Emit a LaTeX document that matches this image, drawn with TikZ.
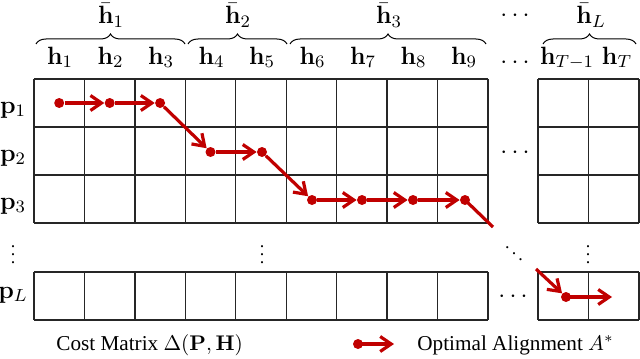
\RequirePackage{fix-cm}
\documentclass[tikz,border=0pt]{standalone}
\usepackage[no-math]{fontspec}
\setmainfont{Liberation Serif}
\usetikzlibrary{arrows.meta,decorations.pathreplacing}
\definecolor{alred}{HTML}{C00000}
\begin{document}
\begin{tikzpicture}[x=0.5pt,y=-0.5pt, font=\fontsize{12.5}{15}\selectfont,
  gridline/.style={line width=0.7pt, black!85},
  lbl/.style={inner sep=0pt, anchor=base},
  mid/.style={inner sep=0pt},
  vdot/.style={inner sep=0pt, font=\fontsize{9}{10}\selectfont},
  captxt/.style={anchor=base west, inner sep=0pt, font=\fontsize{10.6}{13}\selectfont},
  bracefig/.style={decorate, decoration={brace, amplitude=5pt}, line width=0.5pt},
  redline/.style={alred, line width=1.6pt},
  arr/.style={alred, line width=1.6pt, -{Straight Barb[length=5.5pt,width=7.5pt]}},
  reddot/.style={circle, fill=alred, inner sep=0pt, minimum size=5pt}]
\useasboundingbox (0,0) rectangle (640,358);
% grid: main block
\foreach \i in {0,...,9} {
  \draw[gridline] ({34+50.44*\i},79) -- ({34+50.44*\i},223);
  \draw[gridline] ({34+50.44*\i},272) -- ({34+50.44*\i},320);
}
\foreach \y in {79,127,175,223} \draw[gridline] (34,\y) -- (488,\y);
\foreach \y in {272,320} \draw[gridline] (34,\y) -- (488,\y);
% grid: right block
\foreach \x in {538,588.5,639} {
  \draw[gridline] (\x,79) -- (\x,223);
  \draw[gridline] (\x,272) -- (\x,320);
}
\foreach \y in {79,127,175,223,272,320} \draw[gridline] (538,\y) -- (639,\y);
% braces
\draw[bracefig] (36,44) -- (185,44);
\draw[bracefig] (188,44) -- (287,44);
\draw[bracefig] (290,44) -- (486,44);
\draw[bracefig] (543,44) -- (636,44);
% group labels
\node[lbl] (hb1) at (111,24) {$\bar{\mathbf{h}}_1$};
\node[lbl] (hb2) at (238,24) {$\bar{\mathbf{h}}_2$};
\node[lbl] (hb3) at (389,24) {$\bar{\mathbf{h}}_3$};
\node[lbl] (hbd) at (515,22) {$\cdots$};
\node[lbl] (hbL) at (591,24) {$\bar{\mathbf{h}}_L$};
% column labels
\node[lbl] (h1) at (60,64) {$\mathbf{h}_1$};
\node[lbl] (h2) at (110.5,64) {$\mathbf{h}_2$};
\node[lbl] (h3) at (161,64) {$\mathbf{h}_3$};
\node[lbl] (h4) at (211.5,64) {$\mathbf{h}_4$};
\node[lbl] (h5) at (262,64) {$\mathbf{h}_5$};
\node[lbl] (h6) at (312.5,64) {$\mathbf{h}_6$};
\node[lbl] (h7) at (363,64) {$\mathbf{h}_7$};
\node[lbl] (h8) at (413.5,64) {$\mathbf{h}_8$};
\node[lbl] (h9) at (464,64) {$\mathbf{h}_9$};
\node[mid] (hd) at (515,63) {$\cdots$};
\node[lbl] (hT1) at (567,64) {$\mathbf{h}_{T-1}$};
\node[lbl] (hT) at (617,64) {$\mathbf{h}_T$};
% row labels
\node[lbl] (p1) at (13,113) {$\mathbf{p}_1$};
\node[lbl] (p2) at (13,161) {$\mathbf{p}_2$};
\node[lbl] (p3) at (13,209) {$\mathbf{p}_3$};
\node[lbl] (pL) at (13,298) {$\mathbf{p}_L$};
% dots
\node[vdot] (v1) at (13,249) {$\vdots$};
\node[vdot] (v2) at (262,249) {$\vdots$};
\node[vdot] (v3) at (588,249) {$\vdots$};
\node[vdot] (dd) at (514,248) {$\ddots$};
\node[mid] (r2d) at (515,153) {$\cdots$};
\node[mid] (rLd) at (513,297) {$\cdots$};
% alignment path
\node[reddot] (a1) at (59.2,103) {};
\node[reddot] (a2) at (109.7,103) {};
\node[reddot] (a3) at (160.1,103) {};
\node[reddot] (a4) at (210.5,152) {};
\node[reddot] (a5) at (262,152) {};
\node[reddot] (a6) at (312,200) {};
\node[reddot] (a7) at (362,200) {};
\node[reddot] (a8) at (413,200) {};
\node[reddot] (a9) at (465,200) {};
\coordinate (e9) at (493,227);
\coordinate (sL) at (536,269);
\node[reddot] (aL) at (566,297) {};
\coordinate (eL) at (612,297);
\draw[arr] (a1) -- (a2);
\draw[arr] (a2) -- (a3);
\draw[arr] (a3) -- (a4);
\draw[arr] (a4) -- (a5);
\draw[arr] (a5) -- (a6);
\draw[arr] (a6) -- (a7);
\draw[arr] (a7) -- (a8);
\draw[arr] (a8) -- (a9);
\draw[redline] (a9.center) -- (e9);
\draw[arr] (sL) -- (aL);
\draw[arr] (aL.center) -- (eL);
% legend
\node[captxt] (cm) at (56,350) {Cost Matrix $\Delta(\mathbf{P},\mathbf{H})$};
\node[reddot] (ld) at (358,344) {};
\coordinate (la) at (394,344);
\draw[arr] (ld.center) -- (la);
\node[captxt] (oa) at (417,350) {Optimal Alignment $A^{*}$};
\end{tikzpicture}
\end{document}
